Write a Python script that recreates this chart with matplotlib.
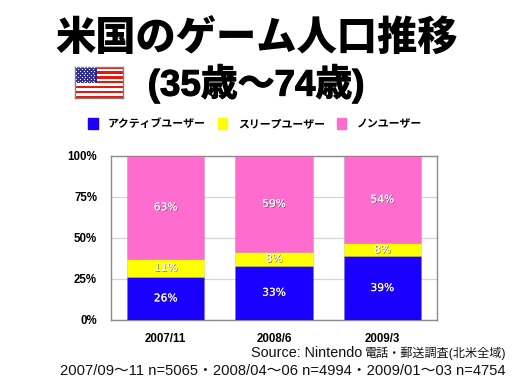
import numpy as np
import matplotlib
matplotlib.use("Agg")
import matplotlib.pyplot as plt
import matplotlib.patheffects as pe
from matplotlib.patches import Patch, Rectangle

LATIN_CJK = ['Liberation Sans', 'Noto Sans CJK JP']
plt.rcParams['font.family'] = LATIN_CJK

TITLE = '米国のゲーム人口推移'
SUBTITLE = '(35歳〜74歳)'
SOURCE_LATIN = 'Source: Nintendo'
SOURCE_CJK = '電話・郵送調査(北米全域)'
SAMPLE = '2007/09〜11 n=5065・2008/04〜06 n=4994・2009/01〜03 n=4754'
categories = ['2007/11', '2008/6', '2009/3']
series_names = ['アクティブユーザー', 'スリープユーザー', 'ノンユーザー']
active = [26, 33, 39]
sleep = [11, 8, 8]
non_user = [63, 59, 54]
series_values = [active, sleep, non_user]
series_colors = ['#1a00ff', '#ffff00', '#ff6ccf']
yticks = [0, 25, 50, 75, 100]

W, H = 512, 384
fig = plt.figure(figsize=(W / 100, H / 100), dpi=100, facecolor='white')


def px_axes(x0, y0, x1, y1, **kw):
    return fig.add_axes([x0 / W, 1 - y1 / H, (x1 - x0) / W, (y1 - y0) / H], **kw)


ax = px_axes(111, 155.7, 437, 319.7)
x = np.arange(len(categories))
totals = np.sum(series_values, axis=0)
bottom = np.zeros(len(categories))
text_shadow = [pe.withSimplePatchShadow(offset=(0.5, -0.5), shadow_rgbFace='#333333', alpha=0.7), pe.Normal()]
for vals, name, col in zip(series_values, series_names, series_colors):
    share = np.array(vals) / totals * 100
    ax.bar(x, share, 0.713, bottom=bottom, color=col, label=name, zorder=3,
           edgecolor='#00000022', linewidth=0.5)
    for xi, b, s, v in zip(x, bottom, share, vals):
        ax.text(xi, b + s / 2, f'{v}%', color='white', ha='center', va='center',
                fontsize=7.7, family='DejaVu Sans', zorder=5, path_effects=text_shadow)
    bottom += share

ax.set_xlim(-0.5 - 0.005, 2.5 + 0.005)
ax.set_ylim(0, 100)
ax.set_yticks(yticks)
ax.set_yticklabels([f'{t}%' for t in yticks], fontsize=8.3, fontweight='bold')
ax.set_xticks(x)
ax.set_xticklabels(categories, fontsize=8.3, fontweight='bold')
ax.tick_params(length=0)
ax.tick_params(axis='y', pad=10)
ax.tick_params(axis='x', pad=9.5)
ax.yaxis.grid(True, color='#d4d4d4', linewidth=0.9, zorder=1)
ax.set_axisbelow(True)
for s in ax.spines.values():
    s.set_color('#8c8c8c')
    s.set_linewidth(1.0)

handles = [Patch(color=c, label=n) for c, n in zip(series_colors, series_names)]
leg = fig.legend(handles=handles, ncol=3, frameon=False, loc='center left',
                 bbox_to_anchor=(85 / W, 1 - 123.5 / H),
                 handlelength=0.87, handleheight=1.2, handletextpad=0.95,
                 columnspacing=1.1, borderpad=0.3, borderaxespad=0,
                 prop={'family': 'Noto Sans CJK JP', 'weight': 'bold', 'size': 7.85})

bold_stroke = [pe.withStroke(linewidth=0.8, foreground='black')]
fig.text(256.5 / W, 1 - 38.5 / H, TITLE, ha='center', va='center', fontsize=29,
         family='Noto Sans CJK JP', fontweight='black', color='black')
fig.text(256 / W, 1 - 84 / H, SUBTITLE, ha='center', va='center', fontsize=26.5,
         fontweight='bold', color='black', path_effects=bold_stroke)
fig.text(362 / W, 1 - 353 / H, SOURCE_LATIN, ha='right', va='center', fontsize=10.35, color='#111111')
fig.text(506 / W, 1 - 353 / H, SOURCE_CJK, ha='right', va='center', fontsize=8.7, color='#111111')
fig.text(506 / W, 1 - 371 / H, SAMPLE, ha='right', va='center', fontsize=10.63, color='#111111')

# US flag
fl = px_axes(74.5, 66.5, 122.5, 98, facecolor='white')
fl.set_xlim(0, 1)
fl.set_ylim(0, 13)
fl.set_xticks([])
fl.set_yticks([])
for i in range(0, 13, 2):
    fl.add_patch(Rectangle((0, i), 1, 1, color='#e8180c', lw=0))
fl.add_patch(Rectangle((0, 6), 0.46, 7, color='#2a2a90', lw=0, zorder=2))
sx, sy = [], []
for r in range(9):
    for c in range(6 if r % 2 == 0 else 5):
        sx.append(0.04 + 0.075 * c + (0 if r % 2 == 0 else 0.0375))
        sy.append(6.4 + 0.775 * r)
fl.scatter(sx, sy, s=0.8, c='white', lw=0, zorder=3)
for s in fl.spines.values():
    s.set_color('#808080')
    s.set_linewidth(1.0)

fig.savefig('out.png', dpi=100)
